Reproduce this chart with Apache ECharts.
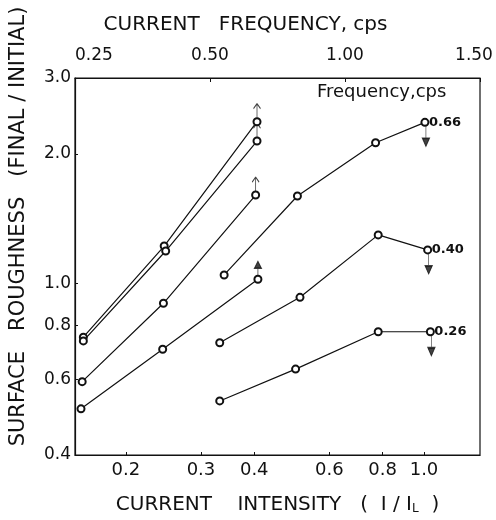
<!DOCTYPE html>
<html>
<head>
<meta charset="utf-8">
<script src="https://cdn.jsdelivr.net/npm/echarts@6/dist/echarts.min.js"></script>
<style>
  html, body { margin: 0; background: #fff; }
  #chart { width: 496px; height: 520px; }
</style>
</head>
<body>
<div id="chart"></div>
<script>
// bottom axis: current intensity I/IL (log), left axis: roughness final/initial (log)
var intensityTicks = [0.2, 0.3, 0.4, 0.6, 0.8, 1.0];
var intensityLabels = ['0.2', '0.3', '0.4', '0.6', '0.8', '1.0'];
var roughTicks = [0.4, 0.6, 0.8, 1.0, 2.0, 3.0];
var roughLabels = ['0.4', '0.6', '0.8', '1.0', '2.0', '3.0'];
// top axis: current frequency, cps (evenly spaced marks)
var freqTickLabels = ['0.25', '0.50', '1.00', '1.50'];

// left group, runs that ended still rising (arrow up)
var runAX = [0.159, 0.246, 0.406];
var runAY = [0.751, 1.222, 2.375];
var runBX = [0.159, 0.248, 0.406];
var runBY = [0.736, 1.190, 2.142];
var runCX = [0.158, 0.245, 0.403];
var runCY = [0.592, 0.900, 1.605];
var runDX = [0.157, 0.244, 0.408];
var runDY = [0.512, 0.704, 1.023];

// right group, labelled by frequency (arrow down at last point)
var freqNames = ['0.66', '0.40', '0.26'];
var f066X = [0.340, 0.505, 0.770, 1.005];
var f066Y = [1.047, 1.597, 2.123, 2.367];
var f040X = [0.332, 0.512, 0.781, 1.020];
var f040Y = [0.729, 0.929, 1.297, 1.197];
var f026X = [0.332, 0.500, 0.781, 1.035];
var f026Y = [0.534, 0.633, 0.773, 0.773];

var FONT = 'DejaVu Sans';
var INK = '#111';

function pairs(xs, ys) {
  return xs.map(function (x, i) { return [x, ys[i]]; });
}
function last(xs, ys) {
  return [xs[xs.length - 1], ys[ys.length - 1]];
}

function lineSeries(data, endName) {
  var s = {
    type: 'line',
    data: data,
    symbol: 'emptyCircle',
    symbolSize: 7,
    lineStyle: { color: INK, width: 1.2 },
    itemStyle: { color: INK, borderWidth: 1.2 },
    z: 3
  };
  if (endName) {
    s.endLabel = {
      show: true,
      formatter: endName,
      color: INK,
      fontFamily: FONT,
      fontWeight: 'bold',
      fontSize: 13,
      distance: 4
    };
  }
  return s;
}

var upOpen = 'path://M4,0 L0,5 M4,0 L8,5 M4,0 L4,14';
var upFilled = 'path://M4,14 L4,6 M1,7 L4,0 L7,7 Z';
var downFilled = 'path://M4,0 L4,12 M1,12 L7,12 L4,20 Z';

var chart = echarts.init(document.getElementById('chart'));

var option = {
  backgroundColor: '#fff',
  animation: false,
  grid: {
    left: 75, right: 16, top: 78, bottom: 65,
    containLabel: false,
    outerBoundsMode: 'none',
    show: true, borderColor: INK, borderWidth: 1.2
  },
  xAxis: [
    {
      type: 'log',
      min: 0.152,
      max: 1.353,
      name: 'CURRENT    INTENSITY   (  I / I{sub|L}  )',
      nameLocation: 'middle',
      nameGap: 40,
      nameTextStyle: {
        fontFamily: FONT, fontSize: 20, color: INK,
        rich: { sub: { fontFamily: FONT, fontSize: 12, verticalAlign: 'bottom', lineHeight: 12 } }
      },
      axisLine: { lineStyle: { color: INK, width: 1.2 } },
      axisTick: { inside: true, length: 3, customValues: intensityTicks, lineStyle: { color: INK } },
      axisLabel: {
        customValues: intensityTicks,
        margin: 6,
        fontFamily: FONT, fontSize: 18, color: INK,
        formatter: function (v) {
          var i = intensityTicks.findIndex(function (t) { return Math.abs(t - v) < 1e-6; });
          return i >= 0 ? intensityLabels[i] : '';
        }
      },
      splitLine: { show: false }
    },
    {
      type: 'value',
      position: 'top',
      min: 0,
      max: freqTickLabels.length - 1,
      interval: 1,
      name: 'CURRENT   FREQUENCY, cps',
      nameLocation: 'middle',
      nameGap: 43,
      nameTextStyle: { fontFamily: FONT, fontSize: 20, color: INK, padding: [0, 64, 0, 0] },
      axisLine: { lineStyle: { color: INK, width: 1.2 } },
      axisTick: { inside: true, length: 4, lineStyle: { color: INK } },
      axisLabel: {
        margin: 14,
        fontFamily: FONT, fontSize: 17, color: INK,
        showMinLabel: true, showMaxLabel: true,
        alignMinLabel: 'left',
        formatter: function (v) {
          var i = Math.round(v);
          return i === freqTickLabels.length - 1 ? '{edge|' + freqTickLabels[i] + '}' : freqTickLabels[i];
        },
        rich: { edge: { fontFamily: FONT, fontSize: 17, color: INK, padding: [0, 12, 0, 0] } }
      },
      splitLine: { show: false }
    }
  ],
  yAxis: {
    type: 'log',
    min: 0.4,
    max: 3.0,
    name: 'SURFACE   ROUGHNESS   (FINAL / INITIAL)',
    nameLocation: 'middle',
    nameGap: 46,
    nameTextStyle: { fontFamily: FONT, fontSize: 21, color: INK, padding: [0, 0, 0, 80] },
    axisLine: { lineStyle: { color: INK, width: 1.2 } },
    axisTick: { inside: true, length: 3, customValues: roughTicks, lineStyle: { color: INK } },
    axisLabel: {
      customValues: roughTicks,
      margin: 4,
      fontFamily: FONT, fontSize: 17, color: INK,
      formatter: function (v) {
        var i = roughTicks.findIndex(function (t) { return Math.abs(t - v) < 1e-6; });
        return i >= 0 ? roughLabels[i] : '';
      }
    },
    splitLine: { show: false }
  },
  graphic: [
    {
      type: 'text',
      left: 317,
      top: 83,
      style: { text: 'Frequency,cps', font: '18px "DejaVu Sans"', fill: INK }
    }
  ],
  series: [
    lineSeries(pairs(runAX, runAY)),
    lineSeries(pairs(runBX, runBY)),
    lineSeries(pairs(runCX, runCY)),
    lineSeries(pairs(runDX, runDY)),
    lineSeries(pairs(f066X, f066Y), freqNames[0]),
    lineSeries(pairs(f040X, f040Y), freqNames[1]),
    lineSeries(pairs(f026X, f026Y), freqNames[2]),
    {
      type: 'scatter',
      data: [last(runAX, runAY), last(runBX, runBY), last(runCX, runCY)],
      symbol: upOpen,
      symbolSize: [7, 14],
      symbolOffset: [0, -11],
      itemStyle: { color: 'rgba(0,0,0,0)', borderColor: INK, borderWidth: 1.1 },
      silent: true
    },
    {
      type: 'scatter',
      data: [last(runDX, runDY)],
      symbol: upFilled,
      symbolSize: [7, 14],
      symbolOffset: [0, -11],
      itemStyle: { color: INK, borderColor: INK, borderWidth: 1.1 },
      silent: true
    },
    {
      type: 'scatter',
      data: [last(f066X, f066Y), last(f040X, f040Y), last(f026X, f026Y)],
      symbol: downFilled,
      symbolSize: [7, 20],
      symbolOffset: [1, 14],
      itemStyle: { color: INK, borderColor: INK, borderWidth: 1.1 },
      silent: true
    }
  ]
};

chart.setOption(option);
</script>
</body>
</html>
